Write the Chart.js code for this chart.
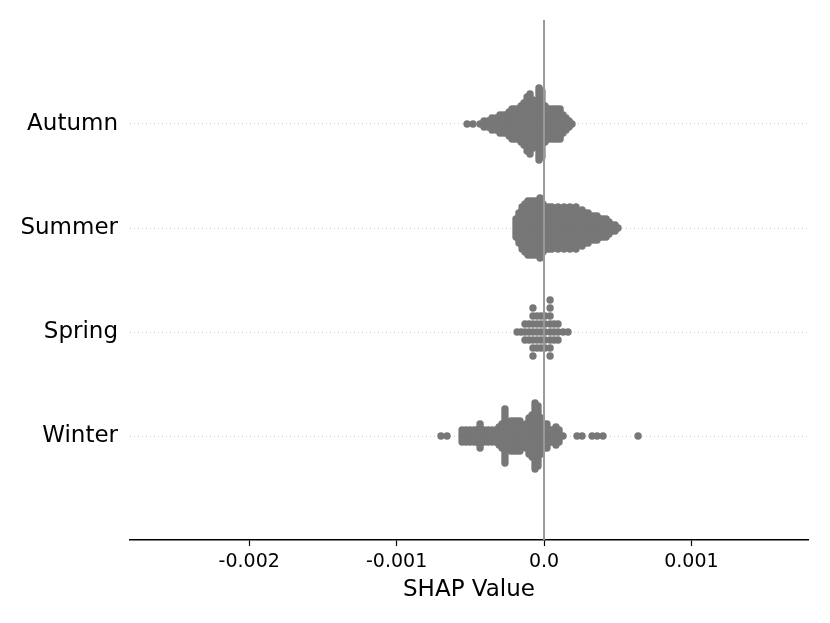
<!DOCTYPE html>
<html lang="en">
<head>
  <meta charset="UTF-8" />
  <title>SHAP values by season</title>
  <script src="https://cdn.jsdelivr.net/npm/chart.js"></script>
  <style>
    body {
      margin: 0;
      background: #fff;
    }
    canvas {
      display: block;
    }
  </style>
</head>
<body>
  <canvas id="shapChart" width="830" height="623"></canvas>

  <script>
    // rows from bottom to top (y = 0, 1, 2, 3)
    const seasons = ['Winter', 'Spring', 'Summer', 'Autumn'];
    const xTicks = [-0.002, -0.001, 0, 0.001];

    // SHAP values in units of 1e-5, and how many samples sit at each value
    const winterShap = [-69.9, -65.8, -55.6, -52.9, -50.2, -47.5, -45.5, -43.4, -40.7, -38.0,
      -35.3, -32.6, -30.5, -28.5, -26.5, -24.4, -22.4, -20.4, -18.3, -16.3,
      -14.2, -12.2, -10.2, -8.1, -6.1, -4.1, -2.0, 0.0, 2.0, 4.1,
      6.1, 8.1, 10.2, 12.9, 22.4, 25.8, 32.6, 36.0, 40.0, 63.8];
    const winterCount = [1, 1, 5, 5, 5, 5, 5, 9, 5, 5,
      5, 5, 7, 9, 19, 9, 11, 11, 11, 11,
      7, 9, 13, 15, 23, 21, 13, 9, 9, 5,
      5, 7, 5, 1, 1, 1, 1, 1, 1, 1];

    const springShap = [-18.3, -15.6, -12.9, -10.2, -7.5, -4.7, -2.0, 0.7, 4.1, 6.8, 9.5, 12.9, 16.3];
    const springCount = [1, 1, 3, 3, 7, 5, 5, 5, 8, 3, 3, 1, 1];

    const summerShap = [-19.0, -17.0, -14.9, -12.9, -10.9, -8.8, -6.8, -4.7, -2.7, -0.7,
      1.4, 3.4, 5.4, 7.5, 9.5, 11.5, 13.6, 15.6, 17.6, 19.7,
      21.7, 23.7, 25.8, 27.8, 29.9, 31.9, 33.9, 36.0, 38.0, 40.0,
      42.1, 44.1, 46.1, 48.2, 50.2];
    const summerCount = [7, 11, 15, 17, 19, 19, 19, 19, 21, 17,
      15, 15, 15, 13, 15, 13, 15, 13, 15, 11,
      15, 11, 13, 11, 11, 9, 9, 9, 7, 7,
      7, 5, 3, 3, 1];

    const autumnShap = [-52.2, -48.2, -43.4, -40.7, -38.0, -35.3, -32.6, -29.9, -27.8, -25.8,
      -23.7, -21.7, -19.7, -17.6, -15.6, -13.6, -11.5, -9.5, -7.5, -5.4,
      -3.4, -1.4, 0.7, 2.7, 4.7, 6.8, 8.8, 10.9, 12.9, 14.9,
      17.0, 19.0];
    const autumnCount = [1, 1, 1, 3, 3, 5, 5, 7, 7, 7,
      9, 11, 11, 11, 13, 15, 19, 21, 17, 15,
      25, 23, 13, 11, 11, 11, 11, 11, 7, 5,
      3, 1];

    const UNIT = 1e-5;
    const ROW_PX = 104;   // pixels between two rows

    // stack samples of the same value above / below the row line
    function swarm(row, values, counts, stepPx) {
      const pts = [];
      values.forEach((v, i) => {
        for (let k = 0; k < counts[i]; k++) {
          const layer = Math.ceil(k / 2) * (k % 2 ? 1 : -1);
          pts.push({ x: v * UNIT, y: row + layer * stepPx / ROW_PX });
        }
      });
      return pts;
    }

    const points = [
      ...swarm(0, winterShap, winterCount, 3),
      ...swarm(1, springShap, springCount, 8),
      ...swarm(2, summerShap, summerCount, 3),
      ...swarm(3, autumnShap, autumnCount, 3)
    ];

    // grey line at SHAP = 0, over the dots
    const zeroLine = {
      id: 'zeroLine',
      afterDatasetsDraw(chart) {
        const { ctx, chartArea, scales } = chart;
        const x = scales.x.getPixelForValue(0);
        ctx.save();
        ctx.strokeStyle = '#999999';
        ctx.lineWidth = 2;
        ctx.beginPath();
        ctx.moveTo(x, chartArea.top);
        ctx.lineTo(x, chartArea.bottom);
        ctx.stroke();
        ctx.restore();
      }
    };

    const font = 'DejaVu Sans';

    new Chart(document.getElementById('shapChart'), {
      type: 'scatter',
      data: {
        datasets: [{
          data: points,
          backgroundColor: '#777777',
          borderColor: '#777777',
          borderWidth: 0,
          pointRadius: 3.7,
          pointHoverRadius: 3.7
        }]
      },
      options: {
        responsive: false,
        animation: false,
        layout: { padding: { top: 20, right: 22, left: 0, bottom: 0 } },
        plugins: {
          legend: { display: false },
          tooltip: { enabled: false }
        },
        scales: {
          x: {
            type: 'linear',
            min: -0.002809,
            max: 0.001791,
            afterBuildTicks: s => { s.ticks = xTicks.map(v => ({ value: v })); },
            afterFit: s => {
              s.height = 83;
              s.paddingLeft = 0;
              s.paddingRight = 0;
            },
            ticks: {
              callback: v => v === 0 ? '0.0' : String(v),
              color: '#000',
              font: { family: font, size: 19 },
              padding: 5,
              maxRotation: 0
            },
            grid: { drawOnChartArea: false, tickLength: 6, tickColor: '#000', tickWidth: 1.2 },
            border: { color: '#000', width: 1.5 },
            title: {
              display: true,
              text: 'SHAP Value',
              color: '#000',
              font: { family: font, size: 23 },
              padding: { top: 0, bottom: 19 }
            }
          },
          y: {
            type: 'linear',
            min: -1,
            max: 4,
            afterBuildTicks: s => { s.ticks = seasons.map((_, i) => ({ value: i })); },
            afterFit: s => {
              s.width = 130;
              s.paddingTop = 0;
              s.paddingBottom = 0;
            },
            ticks: {
              callback: v => seasons[v],
              color: '#000',
              font: { family: font, size: 23 },
              padding: 12
            },
            grid: { drawTicks: false, color: '#cccccc', lineWidth: 1 },
            border: { display: false, dash: [1, 3] }
          }
        }
      },
      plugins: [zeroLine]
    });
  </script>
</body>
</html>
